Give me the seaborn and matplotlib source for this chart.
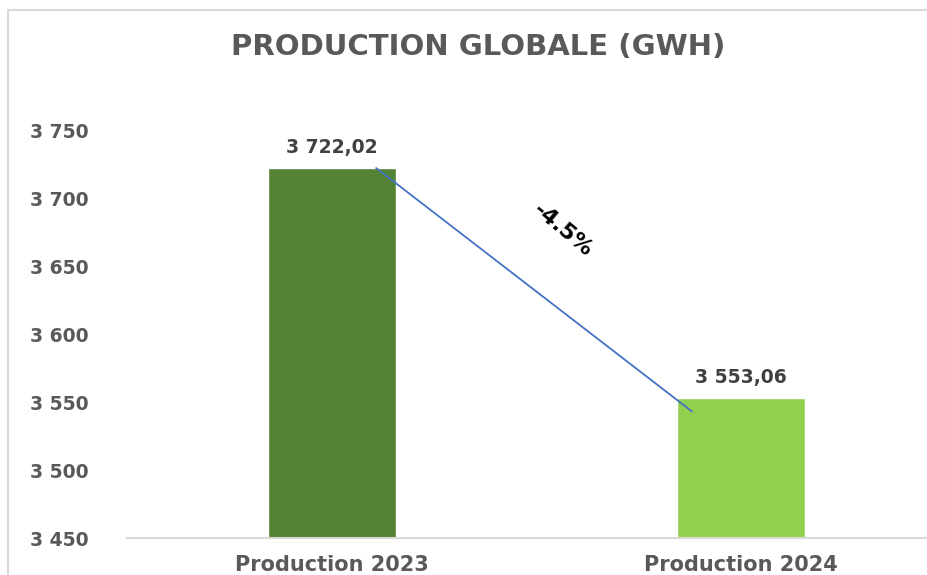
import matplotlib
matplotlib.use("Agg")
import matplotlib.pyplot as plt
import seaborn as sns
import pandas as pd
from matplotlib.patches import Rectangle

categories = ["Production 2023", "Production 2024"]
values = [3722.02, 3553.06]
value_labels = ["3 722,02", "3 553,06"]
colors = ["#548235", "#92D050"]
yticks = [3450, 3500, 3550, 3600, 3650, 3700, 3750]
ytick_labels = ["3 450", "3 500", "3 550", "3 600", "3 650", "3 700", "3 750"]
title = "PRODUCTION GLOBALE (GWH)"

sns.set_theme(style="white")
plt.rcParams['font.family'] = ['DejaVu Sans']

fig = plt.figure(figsize=(9.27, 5.75), dpi=100)
fig.patches.append(Rectangle((8/927, -0.1), 1.2, (575-10)/575 + 0.1, transform=fig.transFigure,
                             fill=False, edgecolor="#d9d9d9", linewidth=1.5))

ax = fig.add_axes([127.5/927, 1-538/575, 818/927, (538-89.2)/575])
df = pd.DataFrame({"cat": categories, "val": values})
sns.barplot(data=df, x="cat", y="val", hue="cat", palette=colors, width=0.313,
            dodge=False, legend=False, ax=ax, saturation=1)

ax.set_xlim(-0.5, 1.5)
ax.set_ylim(3450, 3780)
ax.set_yticks(yticks)
ax.set_yticklabels(ytick_labels)
ax.set_xlabel("")
ax.set_ylabel("")
for s in ["top", "right", "left"]:
    ax.spines[s].set_visible(False)
ax.spines["bottom"].set_color("#d9d9d9")
ax.spines["bottom"].set_linewidth(1.5)
ax.tick_params(axis="y", length=0, pad=28, labelsize=13.5, labelcolor="#595959")
ax.tick_params(axis="x", length=0, pad=12, labelsize=15, labelcolor="#595959")
for lab in ax.get_xticklabels() + ax.get_yticklabels():
    lab.set_fontweight("bold")

for i, (v, t) in enumerate(zip(values, value_labels)):
    ax.annotate(t, (i, v), xytext=(0, 8), textcoords="offset points",
                ha="center", va="bottom", fontsize=13.5, fontweight="bold", color="#404040")

# connector line
ax.plot([0 + 0.108, 1 - 0.12], [values[0], values[1] - 10], color="#4472C4", linewidth=1.3)
pct = (values[1] - values[0]) / values[0] * 100
ax.text(0.565, 3676, f"{pct:.1f}%", rotation=-40, ha="center", va="center",
        fontsize=16, fontweight="semibold", color="black", rotation_mode="anchor")

fig.text(478/927, 1-47/575, title, ha="center", va="center", fontsize=21,
         fontweight="bold", color="#595959", family=["DejaVu Sans"])

fig.savefig("out.png", dpi=100)
